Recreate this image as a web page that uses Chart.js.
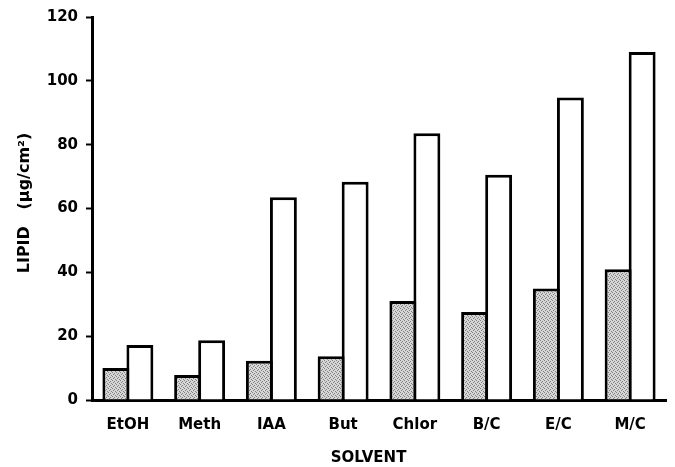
<!DOCTYPE html>
<html>
<head>
<meta charset="utf-8">
<script src="https://cdn.jsdelivr.net/npm/chart.js@4/dist/chart.umd.min.js"></script>
<style>
    html, body { margin: 0; padding: 0; background: #fff; }
    #wrap { width: 675px; height: 467px; }
</style>
</head>
<body>
<div id="wrap"><canvas id="chart" width="675" height="467"></canvas></div>
<script>
const solvents = ["EtOH", "Meth", "IAA", "But", "Chlor", "B/C", "E/C", "M/C"];
const shadedValues = [10, 7.8, 12.3, 13.7, 31, 27.6, 34.9, 41];
const openValues = [17.2, 18.7, 63.5, 68.4, 83.6, 70.6, 94.8, 109];
const yTicks = [0, 20, 40, 60, 80, 100, 120];

const FONT = "'DejaVu Sans', sans-serif";

// stippled grey fill like the printed figure
const stipple = (() => {
    const c = document.createElement("canvas");
    c.width = 4;
    c.height = 4;
    const g = c.getContext("2d");
    g.fillStyle = "#d6d6d6";
    g.fillRect(0, 0, 4, 4);
    g.fillStyle = "#808080";
    [[0, 0], [2, 1], [1, 2], [3, 3]].forEach(([x, y]) => g.fillRect(x, y, 1, 1));
    return g.createPattern(c, "repeat");
})();

const chart = new Chart(document.getElementById("chart"), {
    type: "bar",
    data: {
        labels: solvents,
        datasets: [
            {
                data: shadedValues,
                backgroundColor: stipple,
                borderColor: "#000",
                borderWidth: 3,
                barPercentage: 1.12,
                categoryPercentage: 0.67,
            },
            {
                data: openValues,
                backgroundColor: "#fff",
                borderColor: "#000",
                borderWidth: 3,
                barPercentage: 1.12,
                categoryPercentage: 0.67,
            },
        ],
    },
    options: {
        responsive: false,
        animation: false,
        events: [],
        layout: {
            padding: { top: 16, right: 9, bottom: 0, left: 0 },
        },
        plugins: {
            legend: { display: false },
            tooltip: { enabled: false },
        },
        scales: {
            x: {
                grid: { display: false },
                border: { display: true, color: "#000", width: 3 },
                ticks: {
                    color: "#000",
                    padding: 8,
                    font: { family: FONT, size: 15, weight: "bold" },
                },
                title: {
                    display: true,
                    text: "SOLVENT    ",
                    color: "#000",
                    padding: { top: 0, bottom: 0 },
                    font: { family: FONT, size: 15, weight: "bold" },
                },
                afterFit: (scale) => {
                    scale.height = 67;
                },
            },
            y: {
                min: 0,
                max: 120,
                afterBuildTicks: (scale) => {
                    scale.ticks = yTicks.map((v) => ({ value: v }));
                },
                grid: {
                    drawOnChartArea: false,
                    drawTicks: true,
                    tickLength: 6,
                    tickWidth: 2,
                    tickColor: "#000",
                },
                border: { display: true, color: "#000", width: 3 },
                ticks: {
                    color: "#000",
                    padding: 8,
                    font: { family: FONT, size: 15, weight: "bold" },
                },
                title: {
                    display: true,
                    text: "  LIPID   (µg/cm²)",
                    color: "#000",
                    padding: { top: 15, bottom: 0 },
                    font: { family: FONT, size: 16, weight: "bold" },
                },
                afterFit: (scale) => {
                    scale.width = 92;
                },
            },
        },
    },
});
</script>
</body>
</html>
